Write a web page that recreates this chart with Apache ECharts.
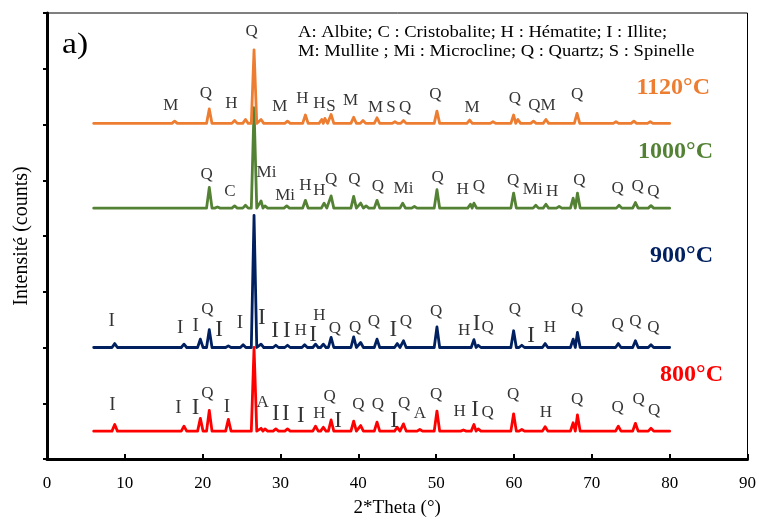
<!DOCTYPE html>
<html><head><meta charset="utf-8">
<script src="https://cdn.jsdelivr.net/npm/echarts@6/dist/echarts.min.js"></script>
<style>html,body{margin:0;padding:0;background:#fff}#c{width:759px;height:523px}</style>
</head><body><div id="c"></div>
<script>
// ---------- data ----------
const xTickMin = 0, xTickMax = 90, xTickStep = 10;
const scanStart = 6, scanEnd = 80;

const base800 = 0.5, base900 = 2.0, base1000 = 4.5, base1120 = 6.02;

const pos800 = [8.7,17.6,19.7,20.85,23.3,26.6,27.5,28.0,29.4,30.9,34.5,35.5,36.5,39.4,40.3,42.4,45.0,45.8,47.9,50.1,53.5,54.85,55.4,59.95,61.0,64.0,67.6,68.15,73.4,75.6,77.6];
const h800   = [0.12,0.09,0.23,0.37,0.21,1.5,0.05,0.04,0.04,0.04,0.09,0.07,0.2,0.18,0.1,0.16,0.07,0.13,0.03,0.36,0.02,0.12,0.04,0.31,0.03,0.08,0.15,0.29,0.09,0.14,0.05];

const pos900 = [8.7,17.6,19.7,20.85,23.3,25.2,26.6,27.5,29.4,30.9,33.1,34.5,35.5,36.5,39.4,40.3,42.4,45.0,45.8,50.1,54.85,55.4,59.95,61.0,64.0,67.6,68.15,73.4,75.6,77.6];
const h900   = [0.07,0.06,0.15,0.32,0.03,0.05,2.37,0.06,0.04,0.04,0.05,0.06,0.06,0.18,0.19,0.09,0.15,0.07,0.12,0.37,0.14,0.04,0.3,0.04,0.07,0.15,0.27,0.07,0.12,0.05];

const pos1000 = [20.85,21.9,24.1,25.5,26.6,27.5,28.0,30.8,33.2,35.6,36.5,39.4,40.3,41.0,42.4,45.7,47.2,50.1,54.4,54.85,59.95,62.8,64.1,65.8,67.6,68.15,73.5,75.6,77.6];
const h1000   = [0.37,0.02,0.04,0.05,1.8,0.13,0.04,0.04,0.14,0.09,0.22,0.21,0.09,0.04,0.14,0.09,0.03,0.33,0.07,0.09,0.27,0.05,0.07,0.03,0.18,0.27,0.05,0.1,0.045];

const pos1120 = [16.4,20.85,24.1,25.5,26.6,27.5,30.9,33.2,35.3,35.7,36.5,39.4,40.6,42.4,44.7,45.8,50.1,54.3,57.3,59.95,60.5,62.5,64.1,68.1,73.1,75.4,77.5];
const h1120   = [0.04,0.26,0.05,0.07,1.32,0.07,0.04,0.15,0.07,0.09,0.16,0.11,0.05,0.1,0.03,0.05,0.22,0.06,0.03,0.15,0.07,0.04,0.07,0.18,0.03,0.04,0.03];

// phase labels: [2theta, level, text]
const lab800 = [[20.6,1.18,'Q'],[27.7,1.02,'A'],[35.0,0.82,'H'],[36.3,1.12,'Q'],[40.0,0.97,'Q'],[42.5,0.97,'Q'],[45.9,1.0,'Q'],[47.9,0.81,'A'],[50.0,1.15,'Q'],[53.0,0.86,'H'],[56.6,0.83,'Q'],[59.9,1.15,'Q'],[64.1,0.83,'H'],[68.1,1.06,'Q'],[73.3,0.93,'Q'],[76.0,1.07,'Q'],[78.0,0.87,'Q']];
const labI800 = [[8.4,0.96,'I'],[16.9,0.91,'I'],[23.1,0.94,'I']];
const labBigI800 = [[19.1,0.91,'I'],[29.4,0.81,'I'],[30.7,0.81,'I'],[32.6,0.77,'I'],[37.4,0.68,'I'],[44.6,0.69,'I'],[55.0,0.88,'I']];

const lab900 = [[20.6,2.69,'Q'],[32.6,2.31,'H'],[35.0,2.58,'H'],[37.0,2.34,'Q'],[39.6,2.35,'Q'],[42.0,2.47,'Q'],[46.1,2.46,'Q'],[50.0,2.65,'Q'],[53.6,2.3,'H'],[56.6,2.36,'Q'],[60.1,2.69,'Q'],[64.6,2.36,'H'],[68.1,2.69,'Q'],[73.3,2.42,'Q'],[75.6,2.46,'Q'],[77.9,2.35,'Q']];
const labI900 = [[8.3,2.47,'I'],[17.1,2.35,'I'],[19.1,2.38,'I'],[24.8,2.44,'I']];
const labBigI900 = [[22.1,2.32,'I'],[27.6,2.53,'I'],[29.3,2.3,'I'],[30.8,2.3,'I'],[34.2,2.23,'I'],[44.5,2.31,'I'],[55.2,2.42,'I'],[62.2,2.2,'I']];

const lab1000 = [[20.5,5.11,'Q'],[23.5,4.79,'C'],[28.2,5.13,'Mi'],[30.6,4.73,'Mi'],[33.2,4.9,'H'],[35.0,4.82,'H'],[36.5,5.02,'Q'],[39.5,5.02,'Q'],[42.5,4.89,'Q'],[45.8,4.85,'Mi'],[50.2,5.05,'Q'],[53.4,4.83,'H'],[55.5,4.88,'Q'],[59.9,4.99,'Q'],[62.4,4.83,'Mi'],[64.9,4.8,'H'],[68.4,4.99,'Q'],[73.3,4.85,'Q'],[75.9,4.88,'Q'],[77.9,4.8,'Q']];

const lab1120 = [[15.9,6.34,'M'],[20.4,6.55,'Q'],[23.7,6.38,'H'],[26.3,7.67,'Q'],[29.9,6.33,'M'],[32.8,6.46,'H'],[35.0,6.38,'H'],[36.5,6.33,'S'],[39.0,6.43,'M'],[42.2,6.31,'M'],[44.2,6.31,'S'],[46.0,6.31,'Q'],[49.9,6.54,'Q'],[54.6,6.31,'M'],[60.1,6.47,'Q'],[63.6,6.34,'QM'],[68.1,6.54,'Q']];

const legendLine1 = 'A: Albite; C : Cristobalite; H : Hématite; I : Illite;';
const legendLine2 = 'M: Mullite ; Mi : Microcline; Q : Quartz; S : Spinelle';
const tempNames = ['800°C','900°C','1000°C','1120°C'];
const xTitle = '2*Theta (°)';
const yTitle = 'Intensité (counts)';
const panelTag = 'a)';

// ---------- build ----------
const colors = ['#FF0000','#002060','#548235','#ED7D31'];
const serif = '"Liberation Serif","Times New Roman",serif';

function profile(base, pos, h) {
  const w = 0.35;
  const pts = [[scanStart, base]];
  for (let i = 0; i < pos.length; i++) {
    const p = pos[i];
    let l = p - w, r = p + w;
    if (i > 0) l = Math.max(l, (pos[i-1] + p) / 2);
    if (i < pos.length - 1) r = Math.min(r, (pos[i+1] + p) / 2);
    if (l > pts[pts.length-1][0] + 1e-9) pts.push([l, base]);
    pts.push([p, base + h[i]]);
    pts.push([r, base]);
  }
  pts.push([scanEnd, base]);
  return pts;
}

function lineSeries(name, data, color) {
  return {name, type:'line', data, showSymbol:false, symbol:'none', smooth:false,
    lineStyle:{color, width:2.8, join:'round', cap:'round'}, silent:true, animation:false};
}
function labelSeries(data, size) {
  return {type:'scatter', data, symbol:'circle', symbolSize:1, silent:true, animation:false,
    itemStyle:{color:'rgba(0,0,0,0)'}, z:5,
    label:{show:true, position:'inside', formatter:p => p.value[2], color:'#000',
      fontFamily:serif, fontSize:size}};
}

const chart = echarts.init(document.getElementById('c'), null, {renderer:'canvas'});
chart.setOption({
  animation:false,
  backgroundColor:'#fff',
  grid:{left:47, right:11, top:13, bottom:61, show:true, borderColor:'#000', borderWidth:1, backgroundColor:'transparent'},
  xAxis:{type:'value', min:xTickMin, max:xTickMax, interval:xTickStep,
    name:xTitle, nameLocation:'middle', nameGap:40,
    nameTextStyle:{fontFamily:serif, fontSize:19, color:'#000'},
    axisLine:{lineStyle:{color:'#000', width:3}},
    axisTick:{inside:true, length:5, lineStyle:{color:'#000', width:2}},
    axisLabel:{fontFamily:serif, fontSize:17, color:'#000', margin:16},
    splitLine:{show:false}},
  yAxis:{type:'value', min:0, max:8, interval:1,
    name:yTitle, nameLocation:'middle', nameGap:15,
    nameTextStyle:{fontFamily:serif, fontSize:20, color:'#000'},
    axisLine:{show:true, lineStyle:{color:'#000', width:3}},
    axisTick:{show:true, inside:false, length:4, lineStyle:{color:'#000', width:2}},
    axisLabel:{show:false}, splitLine:{show:false}},
  series:[
    lineSeries(tempNames[0], profile(base800, pos800, h800), colors[0]),
    lineSeries(tempNames[1], profile(base900, pos900, h900), colors[1]),
    lineSeries(tempNames[2], profile(base1000, pos1000, h1000), colors[2]),
    lineSeries(tempNames[3], profile(base1120, pos1120, h1120), colors[3]),
    labelSeries(lab800.concat(lab900, lab1000, lab1120), 17),
    labelSeries(labI800.concat(labI900), 19),
    labelSeries(labBigI800.concat(labBigI900), 23)
  ],
  graphic:[
    {type:'text', x:62, y:45, scaleX:1.12, style:{text:panelTag, font:'30px '+serif, fill:'#000', align:'left', verticalAlign:'middle'}},
    {type:'text', x:298, y:33, scaleX:1.16, style:{text:legendLine1, font:'16px '+serif, fill:'#000', align:'left', verticalAlign:'middle'}},
    {type:'text', x:298, y:52, scaleX:1.16, style:{text:legendLine2, font:'16px '+serif, fill:'#000', align:'left', verticalAlign:'middle'}},
    {type:'text', x:710, y:88, style:{text:tempNames[3], font:'bold 24px '+serif, fill:colors[3], align:'right', verticalAlign:'middle'}},
    {type:'text', x:713, y:152, style:{text:tempNames[2], font:'bold 24px '+serif, fill:colors[2], align:'right', verticalAlign:'middle'}},
    {type:'text', x:713, y:256, style:{text:tempNames[1], font:'bold 24px '+serif, fill:colors[1], align:'right', verticalAlign:'middle'}},
    {type:'text', x:723, y:375, style:{text:tempNames[0], font:'bold 24px '+serif, fill:colors[0], align:'right', verticalAlign:'middle'}}
  ]
});
</script></body></html>
